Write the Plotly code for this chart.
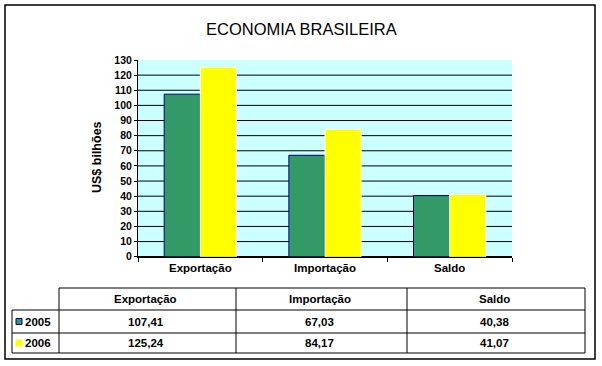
import plotly.graph_objects as go

categories = ["Exportação", "Importação", "Saldo"]
years = ["2005", "2006"]
values_2005 = [107.41, 67.03, 40.38]
values_2006 = [125.24, 84.17, 41.07]
series_colors = ["#339966", "#FFFF00"]
series_lines = ["#000080", "#FFFFFF"]
y_ticks = list(range(0, 131, 10))

W, H = 602, 366
FONT = "Liberation Sans, Arial, sans-serif"


def px(x):
    return x / W


def py(y):
    return 1 - y / H


fig = go.Figure()
for name, vals, col, lc in zip(years, [values_2005, values_2006], series_colors, series_lines):
    fig.add_trace(go.Bar(
        x=categories, y=vals, name=name,
        marker=dict(color=col, line=dict(color=lc, width=1)),
        showlegend=False, hoverinfo="skip",
    ))

shapes = []
annotations = []

# horizontal gridlines (not at the top edge)
for t in y_ticks[1:-1]:
    shapes.append(dict(type="line", xref="x domain", yref="y", x0=0, x1=1, y0=t, y1=t,
                       line=dict(color="black", width=1), layer="below"))

# outer frame
shapes.append(dict(type="rect", xref="paper", yref="paper",
                   x0=px(5), x1=px(595), y0=py(5), y1=py(359),
                   line=dict(color="black", width=1.5), fillcolor="rgba(0,0,0,0)", layer="below"))

# title
annotations.append(dict(text="ECONOMIA BRASILEIRA", xref="paper", yref="paper",
                        x=px(301), y=py(29), showarrow=False, xanchor="center", yanchor="middle",
                        font=dict(family=FONT, size=16.5, color="black")))
# y title
annotations.append(dict(text="US$ bilhões", xref="paper", yref="paper",
                        x=px(97), y=py(157), showarrow=False, xanchor="center", yanchor="middle",
                        textangle=-90,
                        font=dict(family=FONT, size=12.5, color="black", weight="bold")))

# data table
col_edges = [12, 59, 236, 407, 585]
row_edges = [288, 310, 333, 353]
lw = dict(color="black", width=1)
shapes.append(dict(type="line", xref="paper", yref="paper", x0=px(col_edges[1]), x1=px(col_edges[-1]),
                   y0=py(row_edges[0]), y1=py(row_edges[0]), line=lw))
for r in row_edges[1:]:
    shapes.append(dict(type="line", xref="paper", yref="paper", x0=px(col_edges[0]), x1=px(col_edges[-1]),
                       y0=py(r), y1=py(r), line=lw))
for c in col_edges[1:]:
    shapes.append(dict(type="line", xref="paper", yref="paper", x0=px(c), x1=px(c),
                       y0=py(row_edges[0]), y1=py(row_edges[-1]), line=lw))
shapes.append(dict(type="line", xref="paper", yref="paper", x0=px(col_edges[0]), x1=px(col_edges[0]),
                   y0=py(row_edges[1]), y1=py(row_edges[-1]), line=lw))

tfont = dict(family=FONT, size=11.5, color="black", weight="bold")
for i, cat in enumerate(categories):
    cx = (col_edges[i + 1] + col_edges[i + 2]) / 2 - 2
    annotations.append(dict(text=cat, xref="paper", yref="paper", x=px(cx),
                            y=py((row_edges[0] + row_edges[1]) / 2), showarrow=False,
                            xanchor="center", yanchor="middle", font=tfont))
for j, (name, vals) in enumerate(zip(years, [values_2005, values_2006])):
    cy = (row_edges[j + 1] + row_edges[j + 2]) / 2
    for i, v in enumerate(vals):
        cx = (col_edges[i + 1] + col_edges[i + 2]) / 2 - 2
        annotations.append(dict(text=f"{v:.2f}".replace(".", ","), xref="paper", yref="paper",
                                x=px(cx), y=py(cy), showarrow=False,
                                xanchor="center", yanchor="middle", font=tfont))
    annotations.append(dict(text=name, xref="paper", yref="paper", x=px(23), y=py(cy),
                            showarrow=False, xanchor="left", yanchor="middle", font=tfont))
    shapes.append(dict(type="rect", xref="paper", yref="paper",
                       x0=px(16), x1=px(22), y0=py(cy - 3), y1=py(cy + 3),
                       fillcolor=series_colors[j],
                       line=dict(color=series_lines[j] if j == 0 else series_colors[j], width=1)))

fig.update_layout(
    width=W, height=H, autosize=False,
    margin=dict(l=0, r=0, t=0, b=0, pad=0, autoexpand=False),
    paper_bgcolor="white",
    plot_bgcolor="#CCFFFF",
    barmode="group", bargap=0.42, bargroupgap=0,
    shapes=shapes, annotations=annotations,
    xaxis=dict(domain=[px(138), px(512)], automargin=False, showline=True, linecolor="black", linewidth=1,
               ticks="outside", tickson="boundaries", ticklen=4, tickcolor="black",
               showgrid=False, tickfont=dict(family=FONT, size=11.5, color="black", weight="bold")),
    yaxis=dict(domain=[py(256.7), py(60)], automargin=False, range=[0, 130], tickvals=y_ticks,
               showline=True, linecolor="black", linewidth=1,
               ticks="outside", ticklen=3, tickcolor="black",
               showgrid=False,
               zeroline=True, zerolinecolor="black", zerolinewidth=1,
               tickfont=dict(family=FONT, size=10.5, color="black", weight="bold")),
)

post = (
    "document.documentElement.style.margin='0';"
    "document.documentElement.style.overflow='hidden';"
    "document.body.style.margin='0';document.body.style.padding='0';"
    "document.body.style.overflow='hidden';"
    "var d=document.getElementById('{plot_id}');"
    "d.style.position='fixed';d.style.top='0px';d.style.left='0px';"
)
fig.write_html("out.html", post_script=post, config={"displayModeBar": False})
